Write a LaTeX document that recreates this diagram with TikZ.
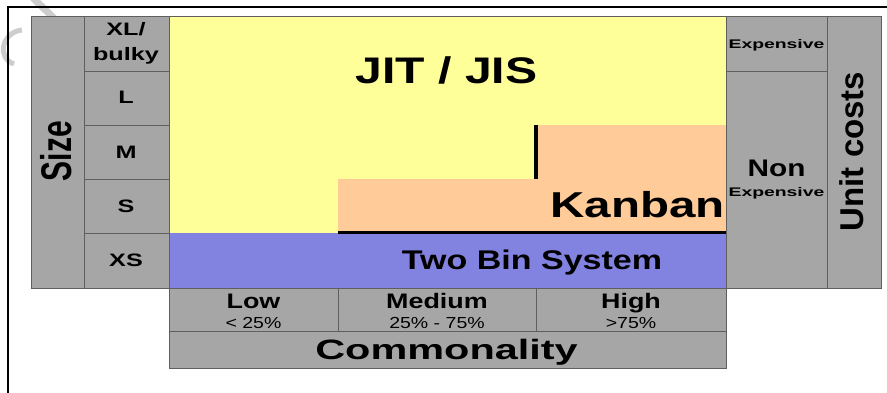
\documentclass[tikz,border=0pt]{standalone}
\usepackage{fontspec}
\setmainfont{Liberation Sans}

\definecolor{cellgray}{RGB}{166,166,166}
\definecolor{gridgray}{RGB}{95,95,95}
\definecolor{jityellow}{RGB}{255,255,153}
\definecolor{kanbanorange}{RGB}{255,204,153}
\definecolor{binblue}{RGB}{130,130,224}
\definecolor{markgray}{RGB}{205,205,205}

\newcommand{\wide}[2]{\scalebox{#1}[1]{#2}}
\newcommand{\fs}[1]{\fontsize{#1}{#1}\selectfont}

\begin{document}
\begin{tikzpicture}[x=1pt, y=-1pt,
    cell/.style={draw=gridgray, fill=cellgray, line width=0.8pt},
    txt/.style={inner sep=0pt, anchor=base},
    sizelbl/.style={txt, font=\bfseries\fs{18}},
    comlbl/.style={txt, font=\bfseries\fs{21}},
    pctlbl/.style={txt, font=\fs{16}}]
\useasboundingbox (0,0) rectangle (887,393);
% frame and watermark
\draw[markgray, line width=7pt] (33,-2) -- (60,24);
\draw[markgray, line width=5pt] (22,30) .. controls (2,32) and (-4,58) .. (14,64);
\draw[line width=2pt] (8,393) -- (8,7.5) -- (887,7.5);
% size axis
\draw[cell] (31,16) rectangle (84,288);
\foreach \ya/\yb in {16/71,71/125,125/179,179/233,233/288}
  \draw[cell] (84,\ya) rectangle (169,\yb);
% fields
\fill[jityellow] (169,16) rectangle (726,233);
\fill[kanbanorange] (338,179) rectangle (726,233);
\fill[kanbanorange] (536,125) rectangle (726,179);
\fill[binblue] (169,233) rectangle (726,288);
\draw[gridgray, line width=0.8pt] (169,16) rectangle (726,288);
\draw[line width=3pt] (338,233) -- (726,233);
\draw[line width=3.2pt] (536,125) -- (536,179);
% unit costs axis
\draw[cell] (726,16) rectangle (827,71);
\draw[cell] (726,71) rectangle (827,288);
\draw[cell] (827,16) rectangle (881,288);
% commonality axis
\foreach \xa/\xb in {169/338,338/536,536/726}
  \draw[cell] (\xa,288) rectangle (\xb,331.5);
\draw[cell] (169,331.5) rectangle (726,368);

% texts
\node[txt, rotate=90, font=\bfseries\fs{30}] (size) at (71,151) {\scalebox{1}[1.43]{Size}};
\node[sizelbl] (xl) at (126,36) {\wide{1.4}{XL/}};
\node[sizelbl] (bulky) at (126,61) {\wide{1.4}{bulky}};
\node[sizelbl] (sizeL) at (126,104) {\wide{1.4}{L}};
\node[sizelbl] (sizeM) at (126,158.5) {\wide{1.4}{M}};
\node[sizelbl] (sizeS) at (126,212.5) {\wide{1.4}{S}};
\node[sizelbl] (sizeXS) at (126,266.7) {\wide{1.4}{XS}};

\node[txt, font=\bfseries\fs{37}] (jit) at (446.5,83.3) {\wide{1.3}{JIT / JIS}};
\node[txt, anchor=base east, font=\bfseries\fs{36}] (kanban) at (725,217.3) {\wide{1.32}{Kanban}};
\node[txt, font=\bfseries\fs{27}] (twobin) at (532,269.3) {\wide{1.26}{Two Bin System}};

\node[txt, font=\bfseries\fs{12.5}] (expensive) at (776.5,48.7) {\wide{1.55}{Expensive}};
\node[txt, font=\bfseries\fs{24}] (nonexp) at (776.5,176.7) {\wide{1.24}{Non}};
\node[txt, font=\bfseries\fs{12.5}] (nonexpsub) at (776.5,196.7) {\wide{1.55}{Expensive}};
\node[txt, rotate=90, font=\bfseries\fs{33}] (unitcosts) at (863,151.5) {Unit costs};

\node[comlbl] (low) at (253.5,308.3) {\wide{1.28}{Low}};
\node[pctlbl] (lowpct) at (253.5,328.3) {\wide{1.22}{< 25\%}};
\node[comlbl] (medium) at (437,308.3) {\wide{1.28}{Medium}};
\node[pctlbl] (medpct) at (437,328.3) {\wide{1.22}{25\% - 75\%}};
\node[comlbl] (high) at (631,308.3) {\wide{1.28}{High}};
\node[pctlbl] (highpct) at (631,328.3) {\wide{1.22}{>75\%}};
\node[txt, font=\bfseries\fs{28}] (commonality) at (446.5,359.3) {\wide{1.48}{Commonality}};
\end{tikzpicture}
\end{document}
